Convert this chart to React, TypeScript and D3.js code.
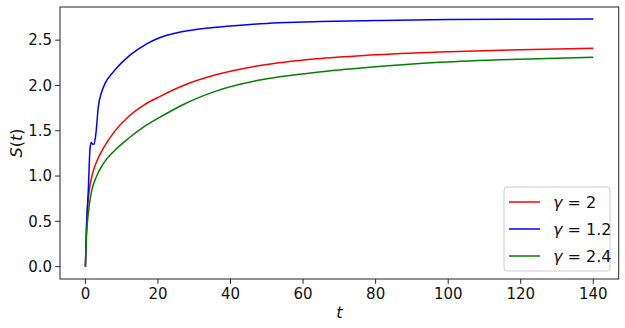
import React from 'react';
import * as d3 from 'd3';

const tBlue = [0, 0.36, 0.8, 1.27, 1.6, 1.9, 2.37, 2.9, 3.56, 4.5, 5.4, 7.7, 12.3, 16.9, 20.6, 25, 30, 40, 50, 60, 80, 100, 120, 140];
const sBlue = [0, 0.48, 0.845, 1.3, 1.37, 1.355, 1.35, 1.47, 1.765, 1.93, 2.02, 2.15, 2.335, 2.46, 2.53, 2.58, 2.615, 2.655, 2.685, 2.70, 2.716, 2.727, 2.731, 2.733];

const tRed = [0, 0.3, 1, 2, 3, 5, 8, 12, 16, 20.6, 27, 36.2, 48.1, 63.8, 78.4, 97.7, 119.8, 140];
const sRed = [0, 0.45, 0.82, 1.03, 1.15, 1.31, 1.49, 1.66, 1.78, 1.88, 2.0, 2.12, 2.22, 2.295, 2.335, 2.37, 2.395, 2.41];

const tGreen = [0, 0.3, 0.8, 1.7, 3, 5, 8, 12, 16, 20.6, 27, 36.2, 48.1, 63.8, 78.4, 97.7, 119.8, 140];
const sGreen = [0, 0.34, 0.59, 0.83, 0.99, 1.14, 1.28, 1.42, 1.54, 1.65, 1.79, 1.94, 2.06, 2.145, 2.2, 2.255, 2.29, 2.31];

const xTicks = [0, 20, 40, 60, 80, 100, 120, 140];
const yTicks = [0.0, 0.5, 1.0, 1.5, 2.0, 2.5];

const series = [
  { label: '2', color: 'red', t: tRed, s: sRed },
  { label: '1.2', color: 'blue', t: tBlue, s: sBlue },
  { label: '2.4', color: 'green', t: tGreen, s: sGreen },
];

const W = 625;
const H = 328;
const m = { left: 60, right: 6.3, top: 7, bottom: 49 };
const font = 'DejaVu Sans, sans-serif';

export default function App() {
  const x = d3.scaleLinear().domain([-7, 147]).range([m.left, W - m.right]);
  const y = d3.scaleLinear().domain([-0.1365, 2.866]).range([H - m.bottom, m.top]);

  const line = d3
    .line<[number, number]>()
    .x((d) => x(d[0]))
    .y((d) => y(d[1]))
    .curve(d3.curveMonotoneX);

  return (
    <svg
      width={W}
      height={H}
      style={{ position: 'absolute', left: 0, top: 0, background: 'white' }}
      fontFamily={font}
    >
      <rect x={0} y={0} width={W} height={H} fill="white" />
      <defs>
        <clipPath id="plot">
          <rect x={m.left} y={m.top} width={W - m.left - m.right} height={H - m.top - m.bottom} />
        </clipPath>
      </defs>

      <g clipPath="url(#plot)">
        {series.map((sr) => (
          <path
            key={sr.label}
            d={line(sr.t.map((t, i) => [t, sr.s[i]] as [number, number])) || undefined}
            fill="none"
            stroke={sr.color}
            strokeWidth={1.5}
          />
        ))}
      </g>

      {/* frame */}
      <rect
        x={m.left}
        y={m.top}
        width={W - m.left - m.right}
        height={H - m.top - m.bottom}
        fill="none"
        stroke="#222"
        strokeWidth={1}
      />

      {/* x axis */}
      {xTicks.map((t) => (
        <g key={t} transform={`translate(${x(t)},${H - m.bottom})`}>
          <line y2={4.8} stroke="#222" />
          <text y={20} textAnchor="middle" fontSize={15} fill="#111">
            {t}
          </text>
        </g>
      ))}
      <text x={(m.left + W - m.right) / 2} y={318} textAnchor="middle" fontSize={16} fontStyle="italic" fill="#111">
        t
      </text>

      {/* y axis */}
      {yTicks.map((v) => (
        <g key={v} transform={`translate(${m.left},${y(v)})`}>
          <line x2={-4.8} stroke="#222" />
          <text x={-8} dy="0.35em" textAnchor="end" fontSize={15} fill="#111">
            {v.toFixed(1)}
          </text>
        </g>
      ))}
      <text transform={`translate(22,${(m.top + H - m.bottom) / 2}) rotate(-90)`} textAnchor="middle" fontSize={16} fill="#111">
        <tspan fontStyle="italic">S</tspan>(<tspan fontStyle="italic">t</tspan>)
      </text>

      {/* legend */}
      <g transform="translate(504,187)">
        <rect width={106} height={84} rx={3} fill="white" fillOpacity={0.8} stroke="#ccc" strokeWidth={1} />
        {series.map((sr, i) => (
          <g key={sr.label} transform={`translate(0,${15 + i * 27})`}>
            <line x1={5} x2={36} stroke={sr.color} strokeWidth={1.5} />
            <text x={49} dy="0.35em" fontSize={16} fill="#111">
              <tspan fontStyle="italic">γ</tspan> = {sr.label}
            </text>
          </g>
        ))}
      </g>
    </svg>
  );
}
